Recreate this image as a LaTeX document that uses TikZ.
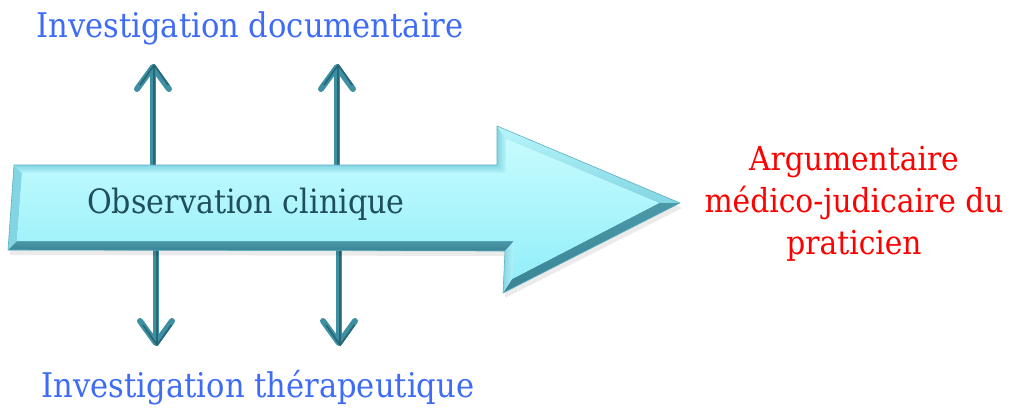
\documentclass[tikz,border=0pt]{standalone}
\usepackage{fontspec}
\setmainfont{DejaVu Serif}[FakeStretch=0.9]
\usetikzlibrary{arrows.meta}

\definecolor{faceTop}{HTML}{C6FBFE}
\definecolor{faceBot}{HTML}{94EFF9}
\definecolor{bevLight}{HTML}{B8F5FB}
\definecolor{bevMid}{HTML}{82D6E3}
\definecolor{bevDark}{HTML}{4A98A8}
\definecolor{bevDeep}{HTML}{3A8494}
\definecolor{edgeLine}{HTML}{5BAFBF}
\definecolor{stem}{HTML}{3D8FA1}
\definecolor{stemDark}{HTML}{276676}
\definecolor{labelBlue}{HTML}{3F6CF6}
\definecolor{obsText}{HTML}{1F4F5C}
\definecolor{resultRed}{HTML}{FF0000}

\tikzset{
  sidearrow/.style={draw=stem, line width=6pt,
    -{Straight Barb[length=22pt,width=32pt,round]}},
  sidecore/.style={draw=stemDark, line width=1.6pt,
    -{Straight Barb[length=20pt,width=28pt,round]}},
  label/.style={font=\fontsize{34}{40}\selectfont, text=labelBlue, anchor=base, inner sep=0pt},
  result/.style={font=\fontsize{33}{42}\selectfont, text=resultRed, align=center, inner sep=0pt},
}

\begin{document}
\begin{tikzpicture}[x=1pt,y=-1pt]
\useasboundingbox (0,0) rectangle (1011,408);

% labels
\node[label] (doc) at (250,37) {Investigation documentaire};
\node[label] (ther) at (258,397) {Investigation thérapeutique};
\node[result] (arg) at (854,204) {Argumentaire\\médico-judicaire du\\praticien};

% side arrows, drawn first so they pass under the main arrow
\coordinate (u1s) at (153,185); \coordinate (u1e) at (153,64);
\coordinate (u2s) at (337,185); \coordinate (u2e) at (337,64);
\coordinate (d1s) at (156,235); \coordinate (d1e) at (156,346);
\coordinate (d2s) at (339,235); \coordinate (d2e) at (339,346);
\foreach \s/\e in {u1s/u1e,u2s/u2e,d1s/d1e,d2s/d2e}{
  \draw[sidearrow] (\s) -- (\e);
  \draw[sidecore] ([xshift=1.2pt]\s) -- ([xshift=1.2pt]\e);
}

% main arrow outline points
\coordinate (A) at (14,165);  \coordinate (B) at (497,165);
\coordinate (C) at (497,126); \coordinate (D) at (680,203);
\coordinate (E) at (503,293); \coordinate (F) at (505,251);
\coordinate (G) at (8,250);
% inner face points (bevel)
\coordinate (a) at (22,173);  \coordinate (b) at (506,173);
\coordinate (c) at (506,139); \coordinate (d) at (659,203);
\coordinate (e) at (512,279); \coordinate (f) at (514,241);
\coordinate (g) at (17,241);

% soft shadow
\fill[black, opacity=0.08] ([shift={(2,5)}]A) -- ([shift={(2,5)}]B) -- ([shift={(2,5)}]C)
  -- ([shift={(2,5)}]D) -- ([shift={(2,5)}]E) -- ([shift={(2,5)}]F) -- ([shift={(2,5)}]G) -- cycle;

% bevel facets
\fill[bevMid] (A) -- (a) -- (g) -- (G) -- cycle;
\shade[top color=bevMid, bottom color=bevLight] (A) -- (B) -- (b) -- (a) -- cycle;
\shade[top color=bevDark, bottom color=bevDeep] (G) -- (g) -- (f) -- (F) -- cycle;
\shade[left color=bevMid, right color=bevLight] (B) -- (C) -- (c) -- (b) -- cycle;
\shade[top color=bevLight, bottom color=bevMid] (C) -- (D) -- (d) -- (c) -- cycle;
\shade[top color=bevDark, bottom color=bevDeep] (D) -- (E) -- (e) -- (d) -- cycle;
\shade[left color=bevMid, right color=bevLight] (E) -- (F) -- (f) -- (e) -- cycle;

% front face
\shade[top color=faceTop, bottom color=faceBot]
  (a) -- (b) -- (c) -- (d) -- (e) -- (f) -- (g) -- cycle;

% thin outer edge
\draw[edgeLine, line width=0.6pt, line join=round]
  (A) -- (B) -- (C) -- (D) -- (E) -- (F) -- (G) -- cycle;

\node[font=\fontsize{33.5}{40}\selectfont, text=obsText, anchor=base, inner sep=0pt]
  (obs) at (246,213) {Observation clinique};
\end{tikzpicture}
\end{document}
